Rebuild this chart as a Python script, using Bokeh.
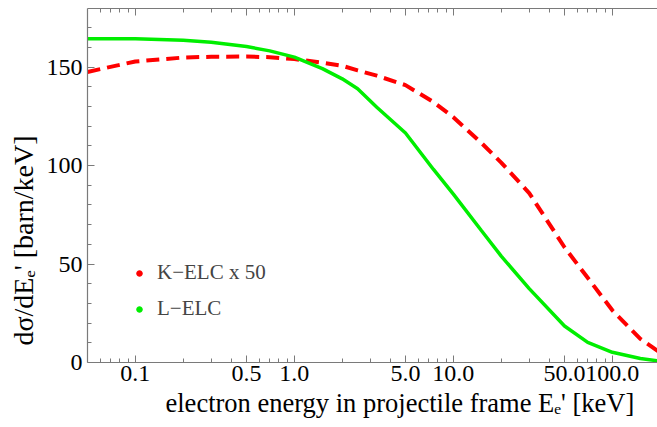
from bokeh.plotting import figure
from bokeh.models import (FixedTicker, LogAxis, Legend, LegendItem, Range1d,
                          ColumnDataSource, Title)
from bokeh.embed import file_html
from bokeh.resources import INLINE

# ---- data ----
energy_keV = [0.05, 0.1, 0.2, 0.3, 0.5, 0.7, 1.0, 1.5, 2.0, 2.5, 3.3, 5.0, 7.5,
              10.0, 15.0, 20.0, 30.0, 50.0, 70.0, 100.0, 150.0, 200.0]
k_elc_x50 = [147.5, 152.8, 154.8, 155.2, 155.3, 155.0, 154.0, 152.2, 150.6, 148.3,
             145.6, 140.8, 132.2, 124.5, 111.5, 101.5, 86.0, 58.5, 43.0, 26.5, 12.0, 5.0]
l_elc = [164.4, 164.3, 163.6, 162.6, 160.4, 158.2, 155.0, 149.2, 144.0, 139.0,
         129.6, 116.5, 98.0, 85.5, 67.0, 54.0, 37.5, 18.5, 10.2, 5.2, 2.0, 0.7]

x_ticks = [0.1, 0.5, 1.0, 5.0, 10.0, 50.0, 100.0]
x_tick_labels = ["0.1", "0.5", "1.0", "5.0", "10.0", "50.0", "100.0"]
x_minor = [0.06, 0.07, 0.08, 0.09, 0.2, 0.3, 0.4, 0.6, 0.7, 0.8, 0.9,
           2, 3, 4, 6, 7, 8, 9, 20, 30, 40, 60, 70, 80, 90]
y_ticks = [0, 50, 100, 150]
y_minor = [10, 20, 30, 40, 60, 70, 80, 90, 110, 120, 130, 140, 160, 170]

series_names = ["K\u2212ELC x 50", "L\u2212ELC"]
x_title = "electron energy in projectile frame E\u2091' [keV]"
y_title = "d\u03c3/dE\u2091' [barn/keV]"

SERIF = "Liberation Serif"
AXIS_COL = "#7a7a7a"
RED = "#ff0000"
GREEN = "#00ee00"

p = figure(width=657, height=427, x_axis_type="log",
           x_range=Range1d(0.05, 192.3), y_range=Range1d(0, 179.7),
           output_backend="svg", toolbar_location=None,
           min_border_left=87, min_border_right=0, min_border_top=8,
           min_border_bottom=65)
p.outline_line_color = None
p.xgrid.visible = False
p.ygrid.visible = False
p.background_fill_color = "white"
p.border_fill_color = "white"

xt = FixedTicker(ticks=x_ticks, minor_ticks=x_minor)
yt = FixedTicker(ticks=y_ticks, minor_ticks=y_minor)

def style_axis(ax, size="24px"):
    ax.axis_line_color = AXIS_COL
    ax.axis_line_width = 1.2
    ax.major_tick_line_color = AXIS_COL
    ax.minor_tick_line_color = AXIS_COL
    ax.major_tick_in = 7
    ax.major_tick_out = 0
    ax.minor_tick_in = 4
    ax.minor_tick_out = 0
    ax.major_label_text_font = SERIF
    ax.major_label_text_font_size = size
    ax.major_label_text_color = "black"
    ax.axis_label = None

p.xaxis.ticker = xt
p.xaxis.major_label_overrides = dict(zip(x_ticks, x_tick_labels))
p.yaxis.ticker = yt
style_axis(p.xaxis[0])
style_axis(p.yaxis[0])
p.xaxis.major_label_standoff = 3
p.yaxis.major_label_standoff = 5

top = LogAxis(ticker=xt)
style_axis(top, size="1px")
top.major_label_overrides = {t: "" for t in x_ticks}
top.major_label_standoff = 0
p.add_layout(top, "above")

# ---- curves ----
src = ColumnDataSource(dict(e=energy_keV, k=k_elc_x50, l=l_elc))
p.line("e", "k", source=src, line_color=RED, line_width=4, line_dash="13 7")
p.line("e", "l", source=src, line_color=GREEN, line_width=3.5)

# legend markers: same data on an x range where they fall outside the frame
p.extra_x_ranges = {"legend_only": Range1d(1000, 2000)}
dk = p.scatter("e", "k", source=src, x_range_name="legend_only", size=6, color=RED)
dl = p.scatter("e", "l", source=src, x_range_name="legend_only", size=6, color=GREEN)

legend = Legend(items=[LegendItem(label=series_names[0], renderers=[dk]),
                       LegendItem(label=series_names[1], renderers=[dl])],
                location=(45, 41), label_text_font=SERIF,
                label_text_font_size="21px", glyph_width=14, glyph_height=24,
                label_height=24, label_standoff=11, spacing=11, padding=0,
                margin=0, border_line_alpha=0, background_fill_alpha=0)
p.add_layout(legend)

# ---- axis titles ----
xtitle = Title(text=x_title, align="left", offset=78, standoff=5,
               text_font=SERIF, text_font_size="26.5px", text_font_style="normal",
               text_color="black")
p.add_layout(xtitle, "below")
ytitle = Title(text=y_title, align="left", offset=17, standoff=9,
               text_font=SERIF, text_font_size="28px", text_font_style="normal",
               text_color="black")
p.add_layout(ytitle, "left")

open("out.html", "w").write(file_html(p, INLINE))
